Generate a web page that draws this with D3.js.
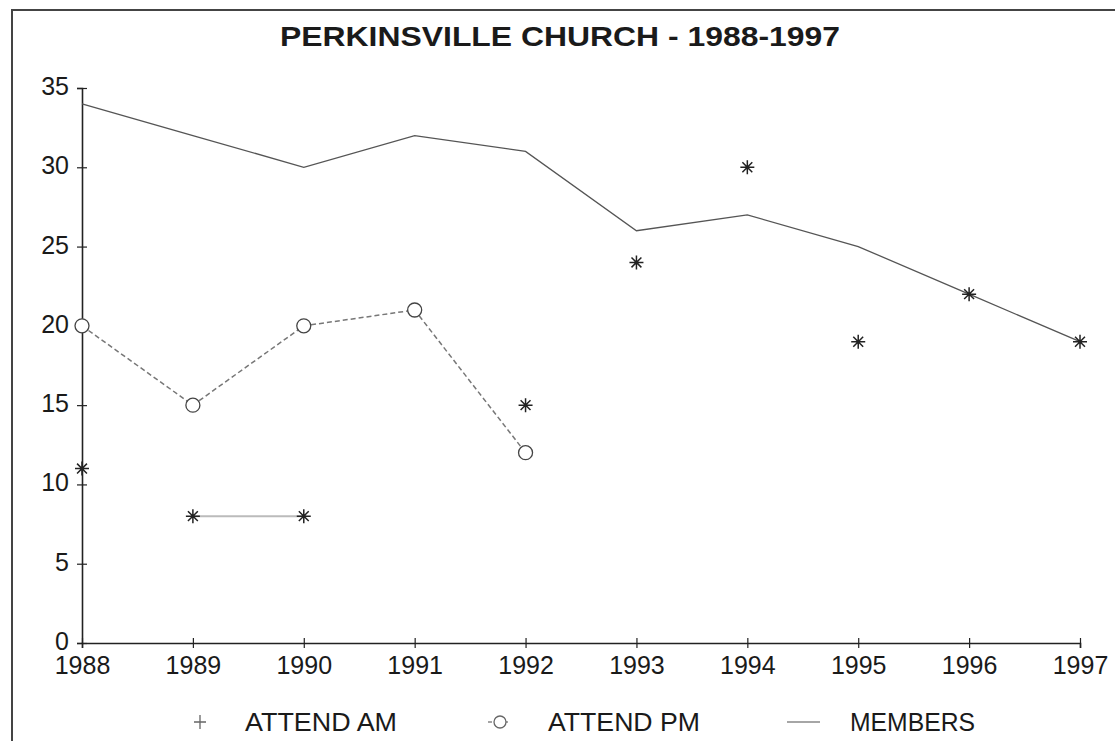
<!DOCTYPE html>
<html>
<head>
<meta charset="utf-8">
<script src="https://cdn.jsdelivr.net/npm/d3@7"></script>
<style>
  body { margin: 0; background: #fff; }
  svg text { font-family: "Liberation Sans", Arial, sans-serif; fill: #1a1a1a; }
</style>
</head>
<body>
<div id="chart"></div>
<script>
"use strict";

const years = [1988, 1989, 1990, 1991, 1992, 1993, 1994, 1995, 1996, 1997];
const members = [34, 32, 30, 32, 31, 26, 27, 25, 22, 19];
const attendAm = [11, 8, 8, null, 15, 24, 30, 19, 22, 19];
const attendPm = [20, 15, 20, 21, 12, null, null, null, null, null];
// only this stretch of the AM line shows on the print
const attendAmLinked = [1989, 1990];
const yTicks = [0, 5, 10, 15, 20, 25, 30, 35];
const legendLabels = ["ATTEND AM", "ATTEND PM", "MEMBERS"];

const W = 1115, H = 741;
const svg = d3.select("#chart").append("svg")
    .attr("width", W).attr("height", H);

// frame of the scanned page
svg.append("path")
    .attr("d", "M12," + H + "V10H" + W)
    .attr("fill", "none").attr("stroke", "#444").attr("stroke-width", 2);

const x = d3.scaleLinear().domain([1988, 1997]).range([82, 1080]);
const y = d3.scaleLinear().domain([0, 35]).range([643, 88]);

svg.append("text")
    .attr("x", 280).attr("y", 46)
    .attr("textLength", 560).attr("lengthAdjust", "spacingAndGlyphs")
    .style("font-size", "28px").style("font-weight", "bold")
    .text("PERKINSVILLE CHURCH - 1988-1997");

// axes with ticks crossing the line
const yAxis = svg.append("g")
    .attr("transform", "translate(" + x(1988) + ",0)")
    .call(d3.axisLeft(y).tickValues(yTicks).tickSize(5).tickPadding(8));
yAxis.selectAll(".tick line").attr("x2", 5).attr("x1", -5);

const xAxis = svg.append("g")
    .attr("transform", "translate(0," + y(0) + ")")
    .call(d3.axisBottom(x).tickValues(years).tickFormat(d3.format("d")).tickSize(5).tickPadding(3));
xAxis.selectAll(".tick line").attr("y1", -5).attr("y2", 5);

[yAxis, xAxis].forEach(g => {
    g.select(".domain").attr("stroke", "#222").attr("stroke-width", 1.6);
    g.selectAll(".tick line").attr("stroke", "#222").attr("stroke-width", 1.2);
    g.selectAll(".tick text").style("font-size", "25px").attr("fill", "#1a1a1a");
});
xAxis.selectAll(".tick text").attr("dy", "0.9em");
yAxis.selectAll(".tick text").attr("dy", "0.26em");

const rows = years.map((yr, i) => ({ yr, m: members[i], am: attendAm[i], pm: attendPm[i] }));

// members
svg.append("path")
    .datum(rows)
    .attr("fill", "none").attr("stroke", "#555").attr("stroke-width", 1.3)
    .attr("d", d3.line().x(d => x(d.yr)).y(d => y(d.m)));

// attend pm
svg.append("path")
    .datum(rows.filter(d => d.pm !== null))
    .attr("fill", "none").attr("stroke", "#777").attr("stroke-width", 1.5)
    .attr("stroke-dasharray", "5,3")
    .attr("d", d3.line().x(d => x(d.yr)).y(d => y(d.pm)));

svg.selectAll("circle.pm")
    .data(rows.filter(d => d.pm !== null))
    .enter().append("circle")
    .attr("class", "pm")
    .attr("cx", d => x(d.yr)).attr("cy", d => y(d.pm))
    .attr("r", 7)
    .attr("fill", "#fff").attr("stroke", "#444").attr("stroke-width", 1.3);

// attend am
svg.append("path")
    .datum(rows.filter(d => attendAmLinked.includes(d.yr)))
    .attr("fill", "none").attr("stroke", "#bbb").attr("stroke-width", 2)
    .attr("d", d3.line().x(d => x(d.yr)).y(d => y(d.am)));

function asterisk(sel, r) {
    let p = "";
    for (let k = 0; k < 4; k++) {
        const a = k * Math.PI / 4;
        p += "M" + (-r * Math.cos(a)) + "," + (-r * Math.sin(a)) + "L" + (r * Math.cos(a)) + "," + (r * Math.sin(a));
    }
    sel.attr("d", p);
}
svg.selectAll("path.am")
    .data(rows.filter(d => d.am !== null))
    .enter().append("path")
    .attr("class", "am")
    .attr("transform", d => "translate(" + x(d.yr) + "," + y(d.am) + ")")
    .call(asterisk, 7)
    .attr("fill", "none").attr("stroke", "#222").attr("stroke-width", 1.5);

// legend
const lg = svg.append("g").attr("transform", "translate(0,731)");
const legendX = [245, 548, 850];
const legendW = [152, 152, 125];
lg.selectAll("text")
    .data(legendLabels)
    .enter().append("text")
    .attr("x", (d, i) => legendX[i])
    .attr("textLength", (d, i) => legendW[i]).attr("lengthAdjust", "spacingAndGlyphs")
    .style("font-size", "25px")
    .text(d => d);

lg.append("path")
    .attr("transform", "translate(200,-9)")
    .attr("d", "M-6,0H6M0,-7V7")
    .attr("stroke", "#666").attr("stroke-width", 1.3);

lg.append("path")
    .attr("d", "M488,-9H512")
    .attr("stroke", "#888").attr("stroke-width", 1.5).attr("stroke-dasharray", "4,4");
lg.append("circle")
    .attr("cx", 500).attr("cy", -9).attr("r", 6)
    .attr("fill", "#fff").attr("stroke", "#666").attr("stroke-width", 1.3);

lg.append("path")
    .attr("d", "M787,-9H820")
    .attr("stroke", "#888").attr("stroke-width", 1.3);
</script>
</body>
</html>
